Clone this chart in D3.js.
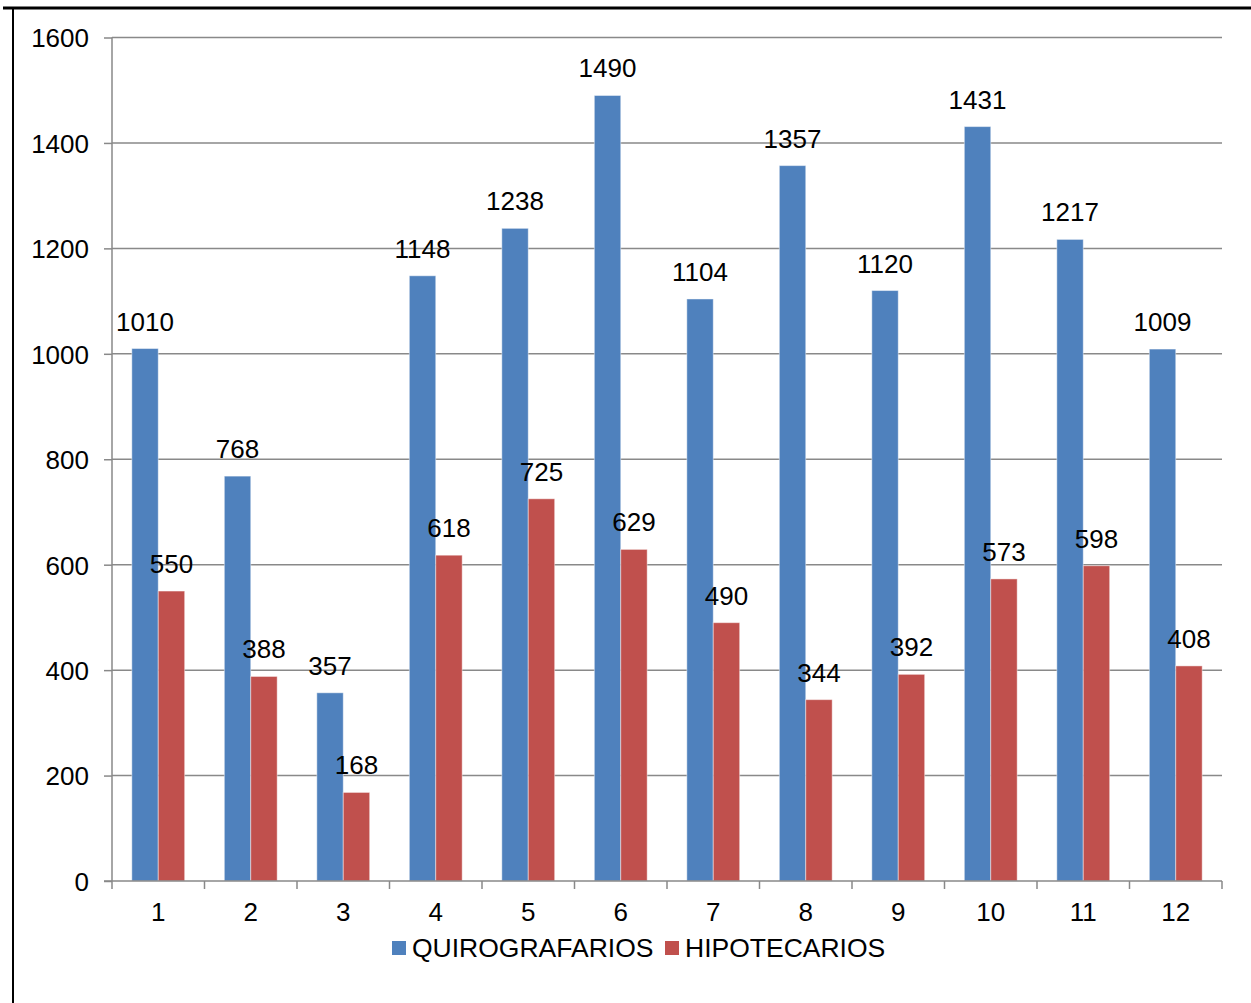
<!DOCTYPE html>
<html>
<head>
<meta charset="utf-8">
<script src="https://cdn.jsdelivr.net/npm/d3@7/dist/d3.min.js"></script>
<style>
  html, body { margin: 0; padding: 0; background: #fff; }
  svg { display: block; font-family: "Liberation Sans", Arial, sans-serif; }
</style>
</head>
<body>
<svg id="chart" width="1251" height="1003"></svg>
<script>
// Categories (months 1..12) and the two series of the grouped bar chart
const categories = ["1", "2", "3", "4", "5", "6", "7", "8", "9", "10", "11", "12"];
const seriesNames = ["QUIROGRAFARIOS", "HIPOTECARIOS"];
const quirografarios = [1010, 768, 357, 1148, 1238, 1490, 1104, 1357, 1120, 1431, 1217, 1009];
const hipotecarios = [550, 388, 168, 618, 725, 629, 490, 344, 392, 573, 598, 408];
const yTicks = [0, 200, 400, 600, 800, 1000, 1200, 1400, 1600];
const colors = ["#4F81BD", "#C0504D"];

const seriesValues = [quirografarios, hipotecarios];
const rows = categories.map((c, i) => ({
  cat: c,
  vals: seriesNames.map((s, k) => ({ series: s, value: seriesValues[k][i], k }))
}));

const svg = d3.select("#chart");
const plot = { left: 112, right: 1222, top: 37.5, bottom: 881 };

// Frame lines at top and left edge
svg.append("line").attr("x1", 3).attr("x2", 1251).attr("y1", 8).attr("y2", 8)
  .attr("stroke", "#000").attr("stroke-width", 3);
svg.append("line").attr("x1", 13).attr("x2", 13).attr("y1", 7).attr("y2", 1003)
  .attr("stroke", "#000").attr("stroke-width", 2);

const y = d3.scaleLinear().domain([0, 1600]).range([plot.bottom, plot.top]);
const x0 = d3.scaleBand().domain(categories).range([plot.left, plot.right]).padding(0);
const bw = x0.bandwidth();
const barW = bw / 3.5; // gap width 150%
const x1 = d3.scaleBand().domain(seriesNames)
  .range([barW * 0.75, bw - barW * 0.75]).padding(0);

// Horizontal gridlines with outer tick marks
const yAxis = d3.axisLeft(y).tickValues(yTicks).tickSize(8).tickFormat(d3.format("d"));
const gy = svg.append("g").attr("transform", `translate(${plot.left},0)`).call(yAxis);
gy.select(".domain").remove();
gy.selectAll(".tick line").attr("stroke", "#898989").attr("stroke-width", 1.5);
gy.selectAll(".tick text").attr("x", -23).attr("dy", "0.36em")
  .attr("font-size", 26).attr("fill", "#000")
  .attr("font-family", "Liberation Sans, Arial, sans-serif");

svg.append("g").selectAll("line").data(yTicks.filter(d => d > 0)).join("line")
  .attr("x1", plot.left).attr("x2", plot.right)
  .attr("y1", d => y(d)).attr("y2", d => y(d))
  .attr("stroke", "#898989").attr("stroke-width", 1.5);

// Bars
const groups = svg.append("g").selectAll("g").data(rows).join("g")
  .attr("transform", d => `translate(${x0(d.cat)},0)`);
groups.selectAll("rect").data(d => d.vals).join("rect")
  .attr("x", d => x1(d.series))
  .attr("width", x1.bandwidth())
  .attr("y", d => y(d.value))
  .attr("height", d => y(0) - y(d.value))
  .attr("fill", d => colors[d.k])
  .attr("stroke", "rgba(255,255,255,0.45)").attr("stroke-width", 1);

// Value labels
groups.selectAll("text").data(d => d.vals).join("text")
  .attr("x", d => x1(d.series) + x1.bandwidth() / 2)
  .attr("y", d => y(d.value) - 18)
  .attr("text-anchor", "middle")
  .attr("font-size", 26).attr("fill", "#000")
  .text(d => d.value);

// Y axis line
svg.append("line").attr("x1", plot.left).attr("x2", plot.left)
  .attr("y1", plot.top).attr("y2", plot.bottom)
  .attr("stroke", "#898989").attr("stroke-width", 1.5);

// X axis with ticks at category boundaries
const gx = svg.append("g");
gx.append("line").attr("x1", plot.left - 8).attr("x2", plot.right)
  .attr("y1", plot.bottom).attr("y2", plot.bottom)
  .attr("stroke", "#898989").attr("stroke-width", 1.5);
const bounds = categories.map(c => x0(c)).concat([plot.right]);
gx.selectAll("line.tk").data(bounds).join("line").attr("class", "tk")
  .attr("x1", d => d).attr("x2", d => d)
  .attr("y1", plot.bottom).attr("y2", plot.bottom + 8)
  .attr("stroke", "#898989").attr("stroke-width", 1.5);
gx.selectAll("text").data(categories).join("text")
  .attr("x", d => x0(d) + bw / 2)
  .attr("y", 921)
  .attr("text-anchor", "middle")
  .attr("font-size", 26).attr("fill", "#000")
  .text(d => d);

// Legend
const legend = svg.append("g");
const legendItems = [
  { name: seriesNames[0], color: colors[0], x: 392 },
  { name: seriesNames[1], color: colors[1], x: 665 }
];
legendItems.forEach(it => {
  legend.append("rect").attr("x", it.x).attr("y", 941).attr("width", 14).attr("height", 14)
    .attr("fill", it.color);
  legend.append("text").attr("x", it.x + 20).attr("y", 957)
    .attr("font-size", 26.5).attr("fill", "#000").text(it.name);
});
</script>
</body>
</html>
